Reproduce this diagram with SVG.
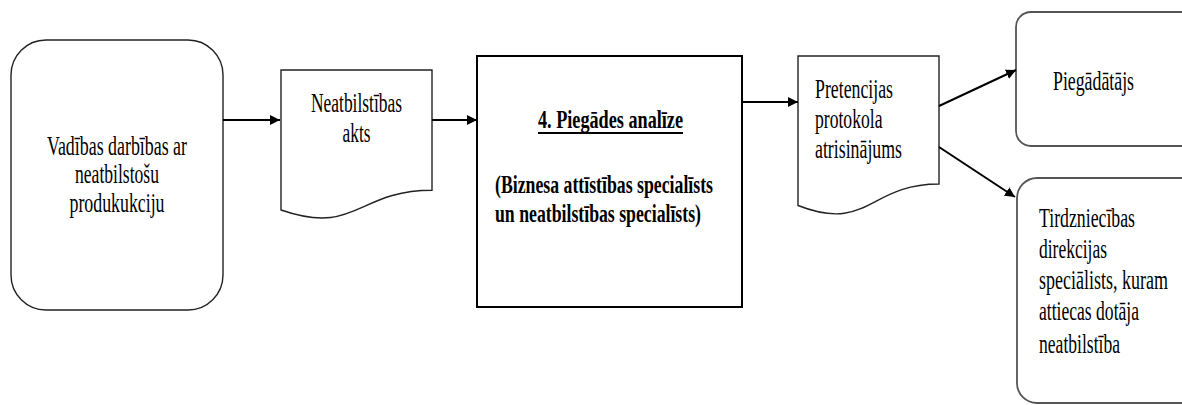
<svg xmlns="http://www.w3.org/2000/svg" width="1182" height="405" viewBox="0 0 1182 405">
<style>
.box{fill:#fff;stroke:#222;stroke-width:1.4}
.soft{fill:#fff;stroke:#555;stroke-width:1.8}
.main{fill:#fff;stroke:#000;stroke-width:2}
text{font-family:'Liberation Serif','DejaVu Serif',serif;fill:#000}
.t{font-size:27px}
.b{font-size:25px;font-weight:bold}
.c{text-anchor:middle}
.conn{stroke:#000;stroke-width:2;fill:none}
</style>
<defs>
<marker id="ah" markerUnits="userSpaceOnUse" markerWidth="11" markerHeight="11" refX="10" refY="5" orient="auto">
<path d="M0,0 L10,5 L0,10 Z" fill="#000"/>
</marker>
</defs>
<g id="n1">
<rect class="box" x="11" y="40" width="212" height="270" rx="35" ry="35"/>
<text class="t c" x="117" y="155" textLength="140" lengthAdjust="spacingAndGlyphs">Vadības darbības ar</text>
<text class="t c" x="117" y="183" textLength="84" lengthAdjust="spacingAndGlyphs">neatbilstošu</text>
<text class="t c" x="117" y="211.5" textLength="95" lengthAdjust="spacingAndGlyphs">produkukciju</text>
</g>
<g id="n2">
<path class="box" d="M281,70 H432 V190.3 C356.5,190.3 356.5,236 281,210 Z"/>
<text class="t c" x="356.5" y="111.5" textLength="91" lengthAdjust="spacingAndGlyphs">Neatbilstības</text>
<text class="t c" x="356.5" y="141.5" textLength="28" lengthAdjust="spacingAndGlyphs">akts</text>
</g>
<g id="n3">
<rect class="main" x="477" y="56" width="265" height="251"/>
<text class="b c" x="610.5" y="128" textLength="145" lengthAdjust="spacingAndGlyphs">4. Piegādes analīze</text>
<line x1="538" y1="133" x2="683" y2="133" stroke="#000" stroke-width="1.8"/>
<text class="b" x="495" y="193" textLength="218" lengthAdjust="spacingAndGlyphs">(Biznesa attīstības specialīsts</text>
<text class="b" x="495" y="222" textLength="206" lengthAdjust="spacingAndGlyphs">un neatbilstības specialīsts)</text>
</g>
<g id="n4">
<path class="box" d="M798,56 H939 V184 C868.5,184 868.5,233 798,205.5 Z"/>
<text class="t" x="815" y="98" textLength="78" lengthAdjust="spacingAndGlyphs">Pretencijas</text>
<text class="t" x="815" y="128" textLength="67.5" lengthAdjust="spacingAndGlyphs">protokola</text>
<text class="t" x="815" y="158" textLength="87" lengthAdjust="spacingAndGlyphs">atrisinājums</text>
</g>
<g id="n5">
<rect class="soft" x="1016" y="12" width="190" height="134" rx="15" ry="15"/>
<text class="t" x="1053" y="90" textLength="81" lengthAdjust="spacingAndGlyphs">Piegādātājs</text>
</g>
<g id="n6">
<rect class="soft" x="1017" y="178" width="190" height="225" rx="20" ry="20"/>
<text class="t" x="1039" y="227" textLength="96" lengthAdjust="spacingAndGlyphs">Tirdzniecības</text>
<text class="t" x="1039" y="258" textLength="68" lengthAdjust="spacingAndGlyphs">direkcijas</text>
<text class="t" x="1039" y="289" textLength="129" lengthAdjust="spacingAndGlyphs">speciālists, kuram</text>
<text class="t" x="1039" y="320" textLength="100" lengthAdjust="spacingAndGlyphs">attiecas dotāja</text>
<text class="t" x="1039" y="353" textLength="81" lengthAdjust="spacingAndGlyphs">neatbilstība</text>
</g>
<g id="connectors">
<line class="conn" x1="223" y1="120" x2="280" y2="120" marker-end="url(#ah)"/>
<line class="conn" x1="432" y1="120" x2="477" y2="120" marker-end="url(#ah)"/>
<line class="conn" x1="742" y1="102" x2="798" y2="102" marker-end="url(#ah)"/>
<line class="conn" x1="939" y1="106" x2="1016" y2="70" marker-end="url(#ah)"/>
<line class="conn" x1="939" y1="147" x2="1015" y2="197" marker-end="url(#ah)"/>
</g>
</svg>
